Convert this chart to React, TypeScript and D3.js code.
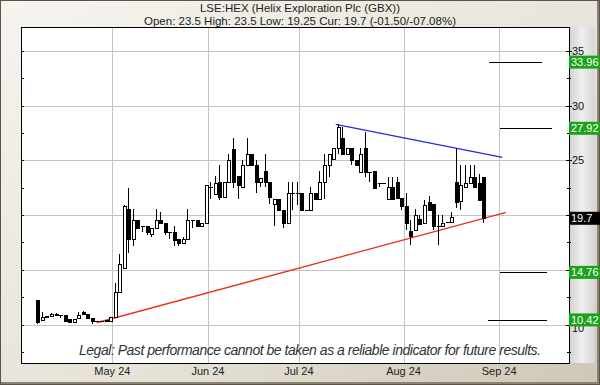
import React from "react";
import * as d3 from "d3";

// ---- data (trading-day index 0 = first candle) ----
const opens = [12.2,10.4,10.75,10.82,11.0,10.85,10.85,10.5,10.2,10.55,11.1,10.95,10.6,10.3,10.3,10.4,10.35,10.7,13.0,15.2,20.55,17.8,19.55,19.0,19.0,18.25,18.8,19.55,19.25,18.45,18.45,17.8,17.45,17.8,19.55,19.55,19.0,19.25,22.55,21.9,23.0,21.65,23.0,26.0,23.55,22.55,24.55,25.55,24.55,23.0,24.0,23.0,21.0,21.5,20.5,19.25,22.0,22.0,22.0,20.5,20.5,22.0,21.5,23.0,24.55,25.15,26.1,27.05,25.55,26.1,25.0,23.95,26.1,23.95,24.0,22.95,22.95,21.45,22.55,23.05,21.55,20.8,18.5,18.65,19.65,19.25,21.2,21.05,19.0,18.95,19.35,19.35,23.05,21.3,22.55,22.95,23.5,22.9,23.5];
const highs = [12.25,11.15,10.78,11.05,11.05,10.85,10.85,10.5,10.5,11.1,11.25,10.95,10.6,10.3,10.3,10.4,10.7,13.8,16.45,20.9,22.45,20.55,19.55,19.0,19.0,18.8,20.55,20.3,19.25,18.45,19.0,17.8,18.0,20.55,19.55,19.55,19.25,22.75,23.0,23.55,24.55,23.0,25.6,27.0,23.55,25.0,27.0,25.55,25.0,23.35,25.55,23.0,21.5,21.5,20.5,23.05,23.05,23.05,22.0,20.5,22.6,22.0,24.0,25.55,25.6,26.1,28.3,28.05,26.1,26.1,25.0,26.1,27.6,23.95,24.0,22.95,22.95,23.5,23.5,23.5,21.55,22.0,19.55,20.55,20.0,21.4,21.7,21.05,20.0,20.0,19.4,20.3,26.1,24.55,24.55,24.55,24.55,23.7,23.5];
const lows = [10.05,10.35,10.65,10.8,10.85,10.6,10.25,10.2,10.2,10.55,10.95,10.6,10.05,10.3,10.3,10.32,10.35,10.6,13.0,15.2,16.5,17.15,18.8,18.45,18.15,17.95,18.8,19.25,18.15,17.8,17.15,17.15,17.45,17.8,18.8,19.0,19.0,19.25,21.5,21.9,21.4,21.65,23.0,22.5,21.5,22.55,24.55,24.55,22.0,22.55,22.55,21.0,18.95,20.5,18.8,19.25,20.5,20.9,20.5,20.5,20.5,21.5,21.5,21.5,23.5,25.15,25.55,25.55,25.55,24.6,24.55,23.95,23.5,23.05,22.5,22.6,22.95,21.45,21.45,21.55,20.5,18.6,17.25,18.65,19.15,19.25,20.45,18.6,17.25,18.95,19.3,19.35,20.6,20.45,22.55,22.95,22.55,21.4,19.25];
const closes = [10.25,10.65,10.68,11.0,10.85,10.85,10.3,10.2,10.5,10.85,10.95,10.6,10.3,10.3,10.3,10.32,10.7,13.0,15.5,20.8,17.8,19.55,18.8,19.0,18.45,18.8,19.55,19.25,18.45,18.45,17.7,17.45,17.8,19.55,19.55,19.0,19.25,22.75,22.6,22.9,21.65,23.0,25.0,23.0,22.75,24.55,25.55,24.55,23.0,23.35,23.0,21.6,21.5,20.5,19.25,22.0,22.0,22.0,20.5,20.5,22.0,21.5,23.0,24.55,25.6,26.1,28.05,25.55,26.1,25.0,24.55,25.55,23.95,23.95,22.5,22.95,22.95,22.55,21.45,21.55,20.8,19.25,18.1,20.0,19.15,20.9,20.45,18.95,19.0,19.25,19.35,19.85,21.2,22.7,22.95,23.5,22.55,21.4,19.7];

const monthStarts = [17, 38, 58, 81, 102];
const monthLabels = ["May 24", "Jun 24", "Jul 24", "Aug 24", "Sep 24"];
const yTicks = [10, 15, 20, 25, 30, 35];
const yTickLabels = [10, 25, 30, 35]; // 15 and 20 are hidden behind the price boxes in the reference
const supportLine = [[13.05, 10.16], [103.0, 20.25]];
const resistLine = [[65.6, 28.28], [102.2, 25.27]];
const targetValues = [33.96, 27.92, 14.76, 10.42];
const targetFrom = [99.3, 101.7, 101.7, 99.1];
const targetTo = [110.9, 113.1, 112.0, 112.0];
const currentPrice = 19.7;
const title = "LSE:HEX (Helix Exploration Plc (GBX))";
const subtitle = "Open: 23.5 High: 23.5 Low: 19.25 Cur: 19.7 (-01.50/-07.08%)";
const legal = "Legal: Past performance cannot be taken as a reliable indicator for future results.";

const W = 600, H = 385;
const L = 21, R = 569, T = 27, B = 363;
const FONT = "'Liberation Sans', Arial, sans-serif";

export default function App() {
  const x = d3.scaleLinear().domain([0, 98]).range([37.3, 483.2]);
  const y = d3.scaleLinear().domain([10, 35]).range([324.5, 50.75]);
  const minorTicks = d3.range(7.5, 36, 2.5);
  const line = d3.line<number[]>().x(d => x(d[0])).y(d => y(d[1]));

  return (
    <svg width={W} height={H} style={{ position: "absolute", left: 0, top: 0 }} fontFamily={FONT}>
      <defs>
        <linearGradient id="bg" x1="0" y1="0" x2="1" y2="1">
          <stop offset="0" stopColor="#f6f4ef" />
          <stop offset="0.6" stopColor="#e6e2d8" />
          <stop offset="1" stopColor="#cdc7b6" />
        </linearGradient>
        <linearGradient id="rp" x1="0" y1="0" x2="1" y2="0">
          <stop offset="0" stopColor="#d2d2d2" />
          <stop offset="0.5" stopColor="#efefef" />
          <stop offset="1" stopColor="#d6d6d6" />
        </linearGradient>
      </defs>
      <rect x={0} y={0} width={W} height={H} fill="url(#bg)" />
      <rect x={R} y={T} width={26} height={B - T} fill="url(#rp)" />
      <rect x={0.5} y={0.5} width={W - 1} height={H - 1} fill="none" stroke="#5e5446" />
      <line x1={W - 2} y1={1} x2={W - 2} y2={H - 1} stroke="#8c8272" strokeWidth={2} />
      <line x1={1} y1={H - 2} x2={W - 1} y2={H - 2} stroke="#8c8272" strokeWidth={2} />

      <text x={300} y={12} textAnchor="middle" fontSize={11.5} fill="#222">{title}</text>
      <text x={300} y={25} textAnchor="middle" fontSize={11.5} fill="#222">{subtitle}</text>

      <rect x={L} y={T} width={R - L} height={B - T} fill="#fff" />
      <g shapeRendering="crispEdges">
        {yTicks.map(v => (
          <line key={v} x1={L} x2={R} y1={Math.round(y(v)) + 0.5} y2={Math.round(y(v)) + 0.5} stroke="#c4c4c4" />
        ))}
        {monthStarts.map(m => (
          <line key={m} x1={Math.round(x(m - 0.5)) + 0.5} x2={Math.round(x(m - 0.5)) + 0.5} y1={T} y2={B} stroke="#c4c4c4" />
        ))}
        {minorTicks.map(v => {
          const yy = Math.round(y(v)) + 0.5;
          const major = v % 5 === 0;
          return (
            <g key={v}>
              <line x1={L} x2={L + 3} y1={yy} y2={yy} stroke="#000" />
              <line x1={R - (major ? 3 : 2)} x2={R + (major ? 3 : 2)} y1={yy} y2={yy} stroke="#000" />
            </g>
          );
        })}
      </g>

      <text x={310} y={355} textAnchor="middle" fontSize={14} fontStyle="italic" fill="#333" textLength={462} lengthAdjust="spacing">{legal}</text>

      <path d={line(supportLine as any) || ""} stroke="#e8321e" strokeWidth={1.3} fill="none" />
      <path d={line(resistLine as any) || ""} stroke="#2828e0" strokeWidth={1.3} fill="none" />

      <g shapeRendering="crispEdges">
        {closes.map((c, i) => {
          const o = opens[i];
          const cx = Math.round(x(i)) + 0.5;
          const top = Math.round(y(Math.max(o, c)));
          const bot = Math.round(y(Math.min(o, c)));
          const up = c > o;
          const h = Math.max(bot - top, 0);
          return (
            <g key={i}>
              <line x1={cx} x2={cx} y1={Math.round(y(highs[i]))} y2={Math.round(y(lows[i]))} stroke="#000" />
              {h < 1 ? (
                <line x1={cx - 2} x2={cx + 2} y1={top + 0.5} y2={top + 0.5} stroke="#000" />
              ) : (
                <rect x={cx - 1.5} y={top + 0.5} width={3} height={h} fill={up ? "#fff" : "#000"} stroke="#000" />
              )}
            </g>
          );
        })}
      </g>

      <g shapeRendering="crispEdges">
        {targetValues.map((v, i) => (
          <line key={v} x1={x(targetFrom[i])} x2={x(targetTo[i])} y1={Math.round(y(v)) + 0.5} y2={Math.round(y(v)) + 0.5} stroke="#000" />
        ))}
        <rect x={L + 0.5} y={T + 0.5} width={R - L} height={B - T} fill="none" stroke="#000" />
      </g>

      {yTickLabels.map(v => (
        <text key={v} x={R + 3} y={y(v) + (v === 10 ? 7 : 4)} fontSize={11} fill="#111">{v}</text>
      ))}
      {monthStarts.map((m, i) => (
        <text key={m} x={x(m - 0.5)} y={375} textAnchor="middle" fontSize={11} fill="#222">{monthLabels[i]}</text>
      ))}

      {targetValues.map(v => (
        <g key={v}>
          <rect x={R} y={y(v) - 6.5} width={W - R} height={13} fill="#1aa31a" />
          <text x={R + 2} y={y(v) + 4} fontSize={11} fill="#fff">{v.toFixed(2)}</text>
        </g>
      ))}
      <rect x={R} y={y(currentPrice) - 6.5} width={W - R} height={13} fill="#000" />
      <text x={R + 2} y={y(currentPrice) + 4} fontSize={11} fill="#fff">{currentPrice}</text>
    </svg>
  );
}
